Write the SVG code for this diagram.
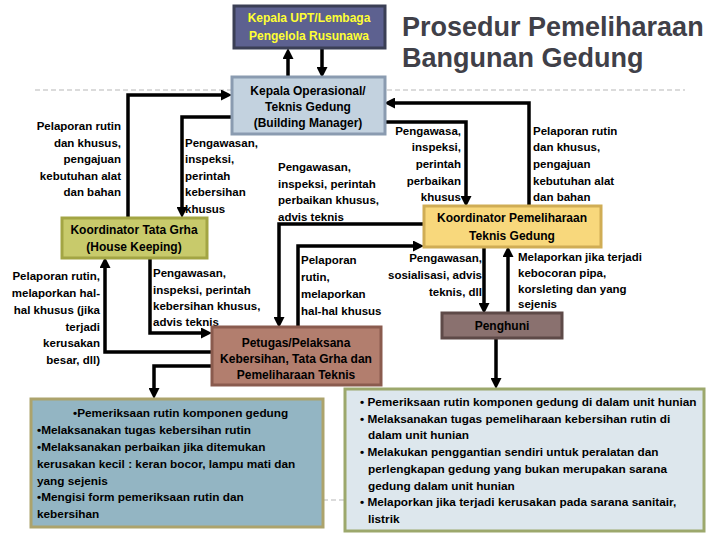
<svg xmlns="http://www.w3.org/2000/svg" width="720" height="540" viewBox="0 0 720 540">
<defs>
<marker id="ah" markerUnits="userSpaceOnUse" markerWidth="11" markerHeight="11" refX="7" refY="5.5" orient="auto">
<path d="M0,0 L11,5.5 L0,11 z" fill="#000"/>
</marker>
<style>
text{font-family:"Liberation Sans",Arial,sans-serif;font-weight:bold;font-size:11.5px;fill:#000}
.c{text-anchor:middle;font-size:12px}
.e{text-anchor:end}
.t{font-size:27px;fill:#404048}
.w{fill:#ffff33;font-size:12px}
.b{font-size:11.8px}
.cn{fill:none;stroke:#000;stroke-width:3.5}
.ar{marker-end:url(#ah)}
.dash{fill:none;stroke:#b8b8b8;stroke-width:1.2;stroke-dasharray:5 3}
</style>
</defs>
<rect width="720" height="540" fill="#fff"/>
<line class="dash" x1="35" y1="90" x2="685" y2="90"/>
<line class="dash" x1="35" y1="500" x2="685" y2="500"/>

<g id="title">
<text class="t" x="402" y="36">Prosedur Pemeliharaan</text>
<text class="t" x="402" y="67">Bangunan Gedung</text>
</g>

<g id="connectors">
<path class="cn ar" d="M288,77 V52"/>
<path class="cn ar" d="M322,48 V74"/>
<path class="cn ar" d="M128,217 V95 H228"/>
<path class="cn ar" d="M231,117 H182 V214"/>
<path class="cn ar" d="M529,206 V103 H388"/>
<path class="cn ar" d="M385,122 H466 V203"/>
<path class="cn ar" d="M423,224 H279 V324"/>
<path class="cn ar" d="M298,327 V246 H420"/>
<path class="cn ar" d="M484,247 V310"/>
<path class="cn ar" d="M508,313 V250"/>
<path class="cn ar" d="M496,338 V385"/>
<path class="cn ar" d="M150,258 V333 H208"/>
<path class="cn ar" d="M211,352 H105 V261"/>
<path class="cn ar" d="M211,366 H154 V395"/>
</g>

<g id="labels">
<text class="e" x="121" y="130">Pelaporan rutin</text>
<text class="e" x="121" y="147">dan khusus,</text>
<text class="e" x="121" y="163">pengajuan</text>
<text class="e" x="121" y="180">kebutuhan alat</text>
<text class="e" x="121" y="196">dan bahan</text>

<text x="185" y="147">Pengawasan,</text>
<text x="185" y="163">inspeksi,</text>
<text x="185" y="180">perintah</text>
<text x="185" y="196">kebersihan</text>
<text x="185" y="213">khusus</text>

<text x="278" y="171">Pengawasan,</text>
<text x="278" y="188">inspeksi, perintah</text>
<text x="278" y="204">perbaikan khusus,</text>
<text x="278" y="221">advis teknis</text>

<text class="e" x="461" y="135">Pengawasa,</text>
<text class="e" x="461" y="151">inspeksi,</text>
<text class="e" x="461" y="168">perintah</text>
<text class="e" x="461" y="185">perbaikan</text>
<text class="e" x="461" y="201">khusus</text>

<text x="533" y="135">Pelaporan rutin</text>
<text x="533" y="151">dan khusus,</text>
<text x="533" y="168">pengajuan</text>
<text x="533" y="185">kebutuhan alat</text>
<text x="533" y="201">dan bahan</text>

<text x="301" y="264">Pelaporan</text>
<text x="301" y="281">rutin,</text>
<text x="301" y="298">melaporkan</text>
<text x="301" y="315">hal-hal khusus</text>

<text class="e" x="482" y="262">Pengawasan,</text>
<text class="e" x="482" y="279">sosialisasi, advis</text>
<text class="e" x="482" y="296">teknis, dll</text>

<text x="518" y="261">Melaporkan jika terjadi</text>
<text x="518" y="277">kebocoran pipa,</text>
<text x="518" y="293">korsleting dan yang</text>
<text x="518" y="308">sejenis</text>

<text x="153" y="277">Pengawasan,</text>
<text x="153" y="294">inspeksi, perintah</text>
<text x="153" y="310">kebersihan khusus,</text>
<text x="153" y="326">advis teknis</text>

<text class="e" x="100" y="280">Pelaporan rutin,</text>
<text class="e" x="100" y="297">melaporkan hal-</text>
<text class="e" x="100" y="314">hal khusus (jika</text>
<text class="e" x="100" y="331">terjadi</text>
<text class="e" x="100" y="347">kerusakan</text>
<text class="e" x="100" y="364">besar, dll)</text>
</g>

<g id="upt">
<rect x="234" y="6" width="151" height="42" fill="#5d6190" stroke="#3b3f55" stroke-width="3"/>
<text class="c w" x="309" y="22">Kepala UPT/Lembaga</text>
<text class="c w" x="309" y="40">Pengelola Rusunawa</text>
</g>

<g id="kepala-operasional">
<rect x="232" y="77" width="153" height="57" fill="#c3d2df" stroke="#8a9bb0" stroke-width="3"/>
<text class="c" x="308" y="95">Kepala Operasional/</text>
<text class="c" x="308" y="111">Teknis Gedung</text>
<text class="c" x="308" y="127">(Building Manager)</text>
</g>

<g id="tata-grha">
<rect x="62" y="218" width="145" height="40" fill="#c8ca6b" stroke="#a3a544" stroke-width="3"/>
<text class="c" x="134" y="234">Koordinator Tata Grha</text>
<text class="c" x="134" y="251">(House Keeping)</text>
</g>

<g id="koord-pemeliharaan">
<rect x="424" y="206" width="177" height="41" fill="#f8d87c" stroke="#d0ad55" stroke-width="3"/>
<text class="c" x="512" y="222">Koordinator Pemeliharaan</text>
<text class="c" x="512" y="240">Teknis Gedung</text>
</g>

<g id="petugas">
<rect x="212" y="327" width="169" height="58" fill="#b27e6e" stroke="#8a5b4e" stroke-width="3"/>
<text class="c" x="296" y="347">Petugas/Pelaksana</text>
<text class="c" x="296" y="363">Kebersihan, Tata Grha dan</text>
<text class="c" x="296" y="379">Pemeliharaan Teknis</text>
</g>

<g id="penghuni">
<rect x="442" y="313" width="120" height="25" fill="#8a716f" stroke="#5e4a48" stroke-width="3"/>
<text class="c" x="502" y="330">Penghuni</text>
</g>

<g id="tugas-petugas">
<rect x="31" y="399" width="292" height="128" fill="#93b5c3" stroke="#aca36c" stroke-width="3"/>
<text class="b" x="73" y="417">•Pemeriksaan rutin komponen gedung</text>
<text class="b" x="37" y="434">•Melaksanakan tugas kebersihan rutin</text>
<text class="b" x="37" y="451">•Melaksanakan perbaikan jika ditemukan</text>
<text class="b" x="37" y="468">kerusakan kecil : keran bocor, lampu mati dan</text>
<text class="b" x="37" y="485">yang sejenis</text>
<text class="b" x="37" y="501">•Mengisi form pemeriksaan rutin dan</text>
<text class="b" x="37" y="518">kebersihan</text>
</g>

<g id="tugas-penghuni">
<rect x="345" y="389" width="359" height="142" fill="#dde7ed" stroke="#9ca86c" stroke-width="3"/>
<text class="b" x="360" y="406">• Pemeriksaan rutin komponen gedung di dalam unit hunian</text>
<text class="b" x="360" y="423">• Melaksanakan tugas pemeliharaan kebersihan rutin di</text>
<text class="b" x="368" y="439">dalam unit hunian</text>
<text class="b" x="360" y="456">• Melakukan penggantian sendiri untuk peralatan dan</text>
<text class="b" x="368" y="473">perlengkapan gedung yang bukan merupakan sarana</text>
<text class="b" x="368" y="490">gedung dalam unit hunian</text>
<text class="b" x="360" y="506">• Melaporkan jika terjadi kerusakan pada sarana sanitair,</text>
<text class="b" x="368" y="523">listrik</text>
</g>
</svg>
